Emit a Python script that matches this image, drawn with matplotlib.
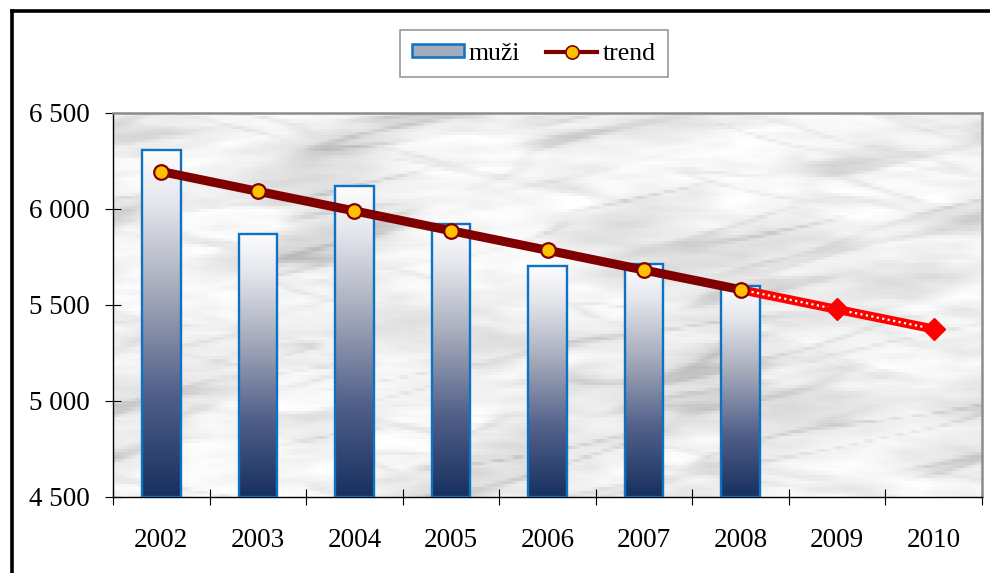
import numpy as np
import matplotlib
matplotlib.use("Agg")
import matplotlib.pyplot as plt
from matplotlib.colors import LinearSegmentedColormap
from matplotlib.lines import Line2D
from matplotlib.patches import Patch
from matplotlib.ticker import FixedLocator, FuncFormatter

plt.rcParams['font.family'] = ['Liberation Serif', 'DejaVu Serif']

# --- data -------------------------------------------------------------
years = ["2002", "2003", "2004", "2005", "2006", "2007", "2008", "2009", "2010"]
muzi = [6305, 5870, 6118, 5920, 5703, 5712, 5598]          # observed, 2002-2008
trend = [6195, 6092, 5990, 5887, 5785, 5682, 5580]          # fitted, 2002-2008
forecast = [5580, 5477, 5375]                               # 2008-2010 projection
y_ticks = [4500, 5000, 5500, 6000, 6500]

W_PX, H_PX = 990, 573
fig = plt.figure(figsize=(W_PX / 100, H_PX / 100), dpi=100)
fig.patch.set_facecolor("white")

left, right, top, bottom = 113, 982, 113, 497
ax = fig.add_axes([left / W_PX, 1 - bottom / H_PX,
                   (right - left) / W_PX, (bottom - top) / H_PX])

ymin, ymax = y_ticks[0], y_ticks[-1]
n = len(years)

# --- soft grey marble backdrop ---------------------------------------
rng = np.random.default_rng(3)
H, W = 120, 260
ky = np.fft.fftfreq(H)[:, None]
kx = np.fft.fftfreq(W)[None, :]


def smooth_noise(su, sv, angle):
    th = np.deg2rad(angle)
    u = kx * np.cos(th) + ky * np.sin(th)
    v = -kx * np.sin(th) + ky * np.cos(th)
    f = np.real(np.fft.ifft2(np.fft.fft2(rng.standard_normal((H, W))) *
                             np.exp(-(u / su) ** 2 - (v / sv) ** 2)))
    return f / f.std()


broad = smooth_noise(0.015, 0.05, -8)
streak_a = smooth_noise(0.012, 0.12, -12)
streak_b = smooth_noise(0.015, 0.12, 10)
fine = smooth_noise(0.06, 0.3, 0)
weight = 1 / (1 + np.exp(-2.0 * broad))
veins = (np.exp(-(streak_a - 0.7) ** 2 / 0.15) * weight
         + 0.6 * np.exp(-(streak_b - 0.9) ** 2 / 0.12) * (1 - weight))
tex = 0.975 - 0.04 * np.clip(broad + 0.5, 0, None) - 0.11 * veins + 0.012 * fine
tex = np.clip(tex, 0.70, 1.0)
ax.imshow(tex, cmap="gray", vmin=0, vmax=1, aspect="auto",
          extent=(-0.5, n - 0.5, ymin, ymax), interpolation="nearest", zorder=0)

# --- gradient bars -----------------------------------------------------
bar_cmap = LinearSegmentedColormap.from_list(
    "barfill", [(0.0, "#17305f"), (0.3, "#52608a"), (0.6, "#a7acbc"),
                (0.85, "#e4e6ec"), (1.0, "#fdfdfe")])
grad = np.linspace(0, 1, 256)[:, None]
bw = 0.4
for i, val in enumerate(muzi):
    b = ax.bar(i, val - ymin, bottom=ymin, width=bw, facecolor="none",
               edgecolor="#0b72c4", linewidth=1.7, zorder=3)[0]
    im = ax.imshow(grad, cmap=bar_cmap, origin="lower", aspect="auto",
                   extent=(i - bw / 2, i + bw / 2, ymin, val), zorder=2)
    im.set_clip_path(b)
ax.set_xlim(-0.5, n - 0.5)
ax.set_ylim(ymin, ymax)

# --- trend and forecast ---------------------------------------------
xf = np.arange(len(trend) - 1, len(trend) - 1 + len(forecast))
ax.plot(xf, forecast, color="#ff0000", lw=6.5, zorder=4, solid_capstyle="butt")
ax.plot(xf, forecast, color="white", lw=1.6, ls=(0, (1, 1.5)), zorder=5)
ax.plot(xf[1:], forecast[1:], ls="none", marker="D", ms=11,
        color="#ff0000", zorder=6)
xt = np.arange(len(trend))
ax.plot(xt, trend, color="#800000", lw=6.5, zorder=7, solid_capstyle="round",
        marker="o", ms=10.5, mfc="#ffc000", mec="#800000", mew=1.6)

# --- axes styling ------------------------------------------------------
for s in ("top", "right"):
    ax.spines[s].set_color("#8c8c8c")
    ax.spines[s].set_linewidth(1.8)
for s in ("left", "bottom"):
    ax.spines[s].set_color("black")
    ax.spines[s].set_linewidth(1.0)

ax.yaxis.set_major_locator(FixedLocator(y_ticks))
ax.yaxis.set_major_formatter(FuncFormatter(lambda v, p: f"{int(v):,}".replace(",", " ")))
ax.tick_params(axis="y", direction="inout", length=11.5, width=0.8, pad=11,
               labelsize=19.5, colors="black")

ax.set_xticks(np.arange(n))
ax.set_xticklabels(years)
ax.set_xticks(np.arange(n + 1) - 0.5, minor=True)
ax.tick_params(axis="x", which="major", length=0, pad=22, labelsize=19.5)
ax.tick_params(axis="x", which="minor", direction="inout", length=11, width=0.8)

# --- legend ------------------------------------------------------------
handles = [Patch(facecolor="#a4acbf", edgecolor="#0b72c4", linewidth=1.8),
           Line2D([], [], color="#800000", lw=3, marker="o", ms=9.5,
                  mfc="#ffc000", mec="#800000", mew=1.2)]
leg = fig.legend(handles, ["muži", "trend"], ncol=2,
                 loc="center", bbox_to_anchor=(534 / W_PX, 1 - 53.5 / H_PX),
                 fontsize=18.5, frameon=True, fancybox=False,
                 handlelength=2.0, handleheight=0.4, handletextpad=0.2,
                 columnspacing=1.0, borderpad=0.5, borderaxespad=0)
leg.get_frame().set_edgecolor("#7f7f7f")
leg.get_frame().set_linewidth(1.2)

# --- outer chart frame (open towards bottom/right) ---------------------
fig.add_artist(Line2D([12 / W_PX, 12 / W_PX], [0, 1 - 11 / H_PX],
                      color="black", lw=2.6, transform=fig.transFigure))
fig.add_artist(Line2D([12 / W_PX, 1], [1 - 11 / H_PX, 1 - 11 / H_PX],
                      color="black", lw=2.6, transform=fig.transFigure))

fig.savefig("out.png", dpi=100)
